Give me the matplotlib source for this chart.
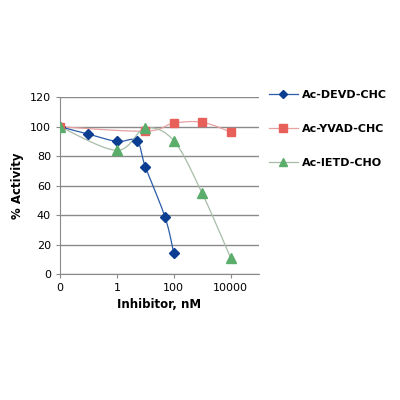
import numpy as np
import matplotlib
matplotlib.use("Agg")
import matplotlib.pyplot as plt
from matplotlib.lines import Line2D

# Data (concentration in nM; the "0" point is plotted at 0.01 on the log axis)
devd_x = [0.01, 0.1, 1, 5, 10, 50, 100]
devd_y = [100, 95, 90, 90.5, 73, 38.6, 14.5]
yvad_x = [0.01, 10, 100, 1000, 10000]
yvad_y = [100, 97, 102.4, 103, 96.5]
ietd_x = [0.01, 1, 10, 100, 1000, 10000]
ietd_y = [100, 84, 99, 90.6, 55, 11.3]
x_ticks = [0.01, 1, 100, 10000]
x_tick_labels = ["0", "1", "100", "10000"]
y_ticks = [0, 20, 40, 60, 80, 100, 120]
labels = ["Ac-DEVD-CHC", "Ac-YVAD-CHC", "Ac-IETD-CHO"]


def smooth(xs, ys, n=30):
    lx = np.log10(np.asarray(xs, float))
    y = np.asarray(ys, float)
    px = np.concatenate([[lx[0]], lx, [lx[-1]]])
    py = np.concatenate([[y[0]], y, [y[-1]]])
    outx, outy = [], []
    for i in range(1, len(px) - 2):
        p0x, p1x, p2x, p3x = px[i - 1], px[i], px[i + 1], px[i + 2]
        p0y, p1y, p2y, p3y = py[i - 1], py[i], py[i + 1], py[i + 2]
        c1x = p1x + (p2x - p0x) / 6
        c1y = p1y + (p2y - p0y) / 6
        c2x = p2x - (p3x - p1x) / 6
        c2y = p2y - (p3y - p1y) / 6
        t = np.linspace(0, 1, n)
        bx = (1 - t) ** 3 * p1x + 3 * (1 - t) ** 2 * t * c1x + 3 * (1 - t) * t ** 2 * c2x + t ** 3 * p2x
        by = (1 - t) ** 3 * p1y + 3 * (1 - t) ** 2 * t * c1y + 3 * (1 - t) * t ** 2 * c2y + t ** 3 * p2y
        outx.extend(bx)
        outy.extend(by)
    return 10 ** np.array(outx), np.array(outy)


fig = plt.figure(figsize=(4, 4), dpi=100)
ax = fig.add_axes([0.15, 0.314, 0.4975, 0.443])

series = [
    (devd_x, devd_y, "#2a5caa", "#0b3d91", "D", 5),
    (yvad_x, yvad_y, "#e8a0a0", "#e8605a", "s", 6),
    (ietd_x, ietd_y, "#a8bca8", "#5aad6a", "^", 6.5),
]
handles = []
for (xs, ys, lc, mc, mk, ms), lab in zip(series, labels):
    sx, sy = smooth(xs, ys)
    ax.plot(sx, sy, color=lc, lw=0.9, zorder=3)
    ax.plot(xs, ys, linestyle="none", marker=mk, color=mc, markersize=ms,
            markeredgecolor=mc, zorder=4)
    handles.append(Line2D([0], [0], color=lc, lw=0.9, marker=mk, markersize=ms - 0.5,
                          markerfacecolor=mc, markeredgecolor=mc))

ax.set_xscale("log")
ax.set_xlim(0.01, 1e5)
ax.set_ylim(0, 120)
ax.set_xticks(x_ticks)
ax.set_xticklabels(x_tick_labels)
ax.xaxis.set_minor_locator(matplotlib.ticker.NullLocator())
ax.set_yticks(y_ticks)
ax.yaxis.grid(True, color="#8a8a8a", lw=1)
ax.set_axisbelow(True)
for s in ["top", "right"]:
    ax.spines[s].set_visible(False)
for s in ["left", "bottom"]:
    ax.spines[s].set_color("#8a8a8a")
ax.tick_params(axis="both", labelsize=8, color="#8a8a8a", length=3)
ax.set_xlabel("Inhibitor, nM", fontsize=8.5, fontweight="bold", labelpad=3)
ax.set_ylabel("% Activity", fontsize=8.5, fontweight="bold", labelpad=4)

leg = ax.legend(handles, labels, loc="upper left", bbox_to_anchor=(1.0, 1.095),
                frameon=False, labelspacing=2.15, handlelength=2.6,
                handletextpad=0.4, prop={"size": 8, "weight": "bold"})

fig.savefig("out.png", dpi=100)
